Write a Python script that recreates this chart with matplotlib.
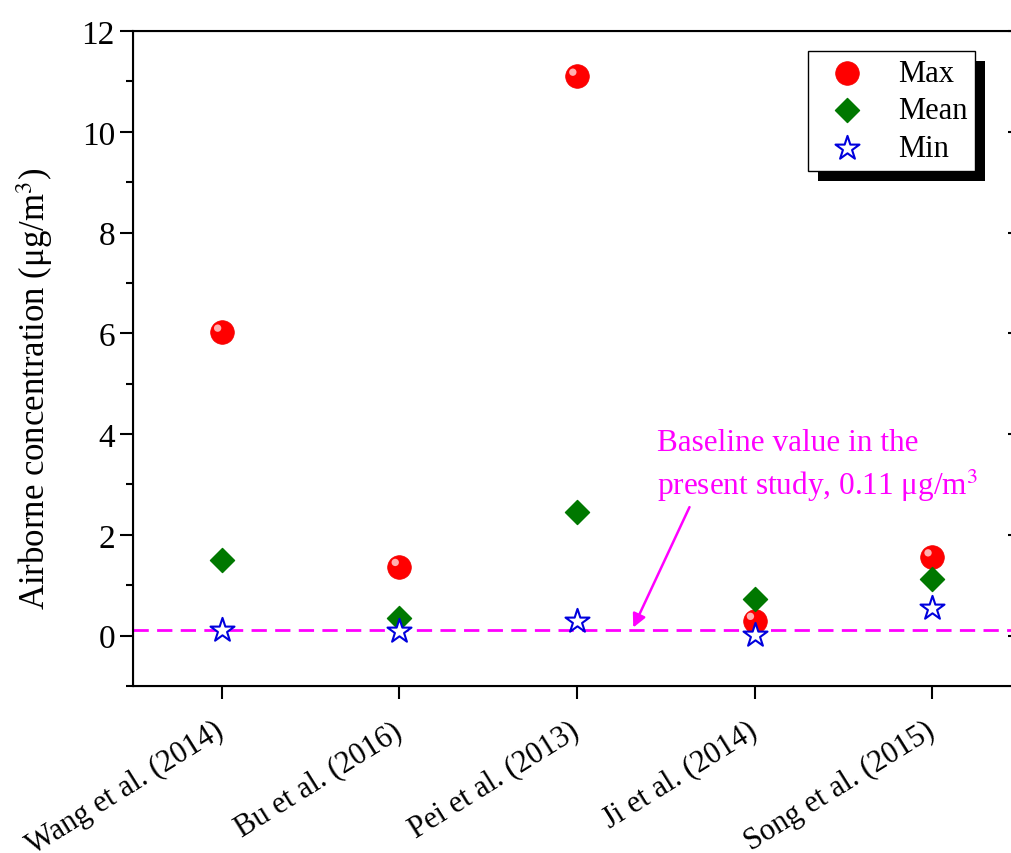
import matplotlib
matplotlib.use("Agg")
import matplotlib.pyplot as plt
from matplotlib.patches import Rectangle
from matplotlib.transforms import offset_copy, ScaledTranslation
import numpy as np

plt.rcParams['font.family'] = ['Liberation Serif', 'DejaVu Serif']
plt.rcParams['mathtext.fontset'] = 'stix'

# Datos
studies = ["Wang et al. (2014)", "Bu et al. (2016)", "Pei et al. (2013)",
           "Ji et al. (2014)", "Song et al. (2015)"]
max_vals = [6.02, 1.37, 11.1, 0.30, 1.56]
mean_vals = [1.51, 0.35, 2.45, 0.72, 1.12]
min_vals = [0.12, 0.10, 0.29, 0.01, 0.55]
baseline = 0.11

x = np.arange(1, len(studies) + 1)

fig = plt.figure(figsize=(10.11, 8.54), dpi=100)
ax = fig.add_axes([133/1011, 1 - 687/854, (1021 - 133)/1011, (687 - 32)/854])

# Linea base
ax.axhline(baseline, color='#ff00ff', ls=(0, (5.5, 3)), lw=2, zorder=1)

ax.scatter(x, max_vals, s=290, marker='o', color='#ff0000', edgecolors='#f00000',
           linewidths=0.5, zorder=3, label='Max')
# brillo de la esfera
hl = offset_copy(ax.transData, fig=fig, x=-3, y=3, units='points')
ax.scatter(x, max_vals, s=28, marker='o', color='#ffb0b0', edgecolors='none',
           zorder=3.5, transform=hl)
ax.scatter(x, mean_vals, s=150, marker='D', color='#007800', edgecolors='#007800',
           zorder=3, label='Mean')
ax.scatter(x, min_vals, s=330, marker='*', facecolors='white', edgecolors='#0000dd',
           linewidths=1.5, zorder=4, label='Min')

ax.set_xlim(0.5, 5.5)
ax.set_ylim(-1, 12)
ax.set_yticks(np.arange(0, 13, 2))
ax.set_yticks(np.arange(-1, 12, 1), minor=True)
ax.set_xticks(x)
ax.set_xticklabels(studies, rotation=32, ha='right', rotation_mode='anchor', fontsize=22)
ax.tick_params(axis='y', which='major', labelsize=24, length=9.5, width=1.5,
               direction='out')
ax.tick_params(axis='y', which='minor', length=5, width=1.5)
ax.tick_params(axis='x', length=9.5, width=1.5, pad=12)
shift = ScaledTranslation(-8/100, 0, fig.dpi_scale_trans)
for lab in ax.get_xticklabels():
    lab.set_transform(lab.get_transform() + shift)
for s in ax.spines.values():
    s.set_linewidth(1.5)

# ticks del lado derecho hacia adentro
ax2 = ax.twinx()
ax2.set_ylim(ax.get_ylim())
ax2.set_yticks(np.arange(0, 13, 2))
ax2.tick_params(axis='y', direction='in', length=9.5, width=1.5, labelright=False)

ax.set_ylabel("Airborne concentration (μg/m$^3$)", fontsize=25)
ax.yaxis.set_label_coords(-0.088, 0.456)

# Anotacion
ax.text(3.45, 4.12, "Baseline value in the\npresent study, 0.11 μg/m$^3$",
        color='#ff00ff', fontsize=22.5, va='top', ha='left', linespacing=1.35)
ax.annotate("", xy=(3.31, baseline), xytext=(3.64, 2.6),
            arrowprops=dict(arrowstyle='-|>', color='#ff00ff', lw=1.8,
                            mutation_scale=20))

leg = ax.legend(loc='upper right', bbox_to_anchor=(0.948, 0.969), fontsize=22,
                frameon=True, fancybox=False, edgecolor='black', framealpha=1,
                handletextpad=0.6, borderpad=0.25, labelspacing=0.28, handlelength=2.1,
                borderaxespad=0)
leg.get_frame().set_linewidth(1.0)

fig.canvas.draw()
bb = leg.get_window_extent()
shadow = Rectangle((bb.x0 + 10, bb.y0 - 10), bb.width, bb.height,
                   transform=None, facecolor='black', edgecolor='none', zorder=5)
fig.add_artist(shadow)
leg.remove()
fig.add_artist(leg)
leg.set_zorder(6)

fig.savefig("out.png", dpi=100)
